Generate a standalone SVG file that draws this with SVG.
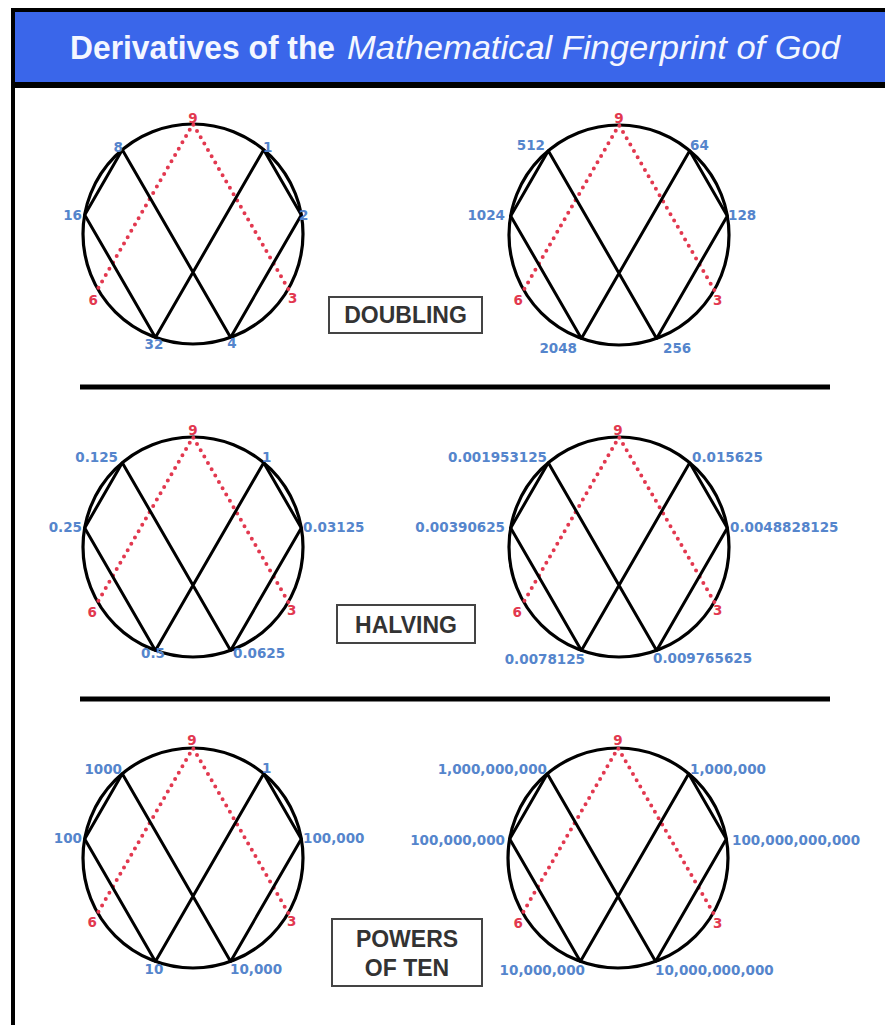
<svg xmlns="http://www.w3.org/2000/svg" xmlns:xlink="http://www.w3.org/1999/xlink" width="885" height="1025" viewBox="0 0 885 1025">
<style>
.ring{fill:none;stroke:#000;stroke-width:3.2}
.chord{fill:none;stroke:#000;stroke-width:3;stroke-linejoin:round}
.dots{fill:none;stroke:#e2384f;stroke-width:4;stroke-linecap:round;stroke-dasharray:0 7.3}
.lb{font-family:"DejaVu Sans",Verdana,sans-serif;font-weight:bold;font-size:13.5px;fill:#5585cc}
.rd{font-family:"DejaVu Sans",Verdana,sans-serif;font-weight:bold;font-size:13.5px;fill:#e2384f}
.box{fill:#fff;stroke:#444;stroke-width:2}
.bt{font-family:"Liberation Sans",Arial,sans-serif;font-weight:bold;font-size:23px;fill:#333;text-anchor:middle}
.tt{font-family:"Liberation Sans",Arial,sans-serif;font-size:34px;fill:#f4f7ff}
.div{stroke:#000;stroke-width:5}
.s{text-anchor:start}.m{text-anchor:middle}.e{text-anchor:end}
</style>
<defs>
<g id="fig">
<circle class="ring" cx="0" cy="0" r="110"/>
<path class="dots" d="M95.3,55 L0,-110 L-95.3,55"/>
<path class="chord" d="M70.7,-84.3 L108.3,-19.1 L37.6,103.4 L-70.7,-84.3 L-108.3,-19.1 L-37.6,103.4 Z"/>
</g>
</defs>
<rect width="885" height="1025" fill="#fff"/>
<g id="frame">
<rect x="11" y="8" width="874" height="80" fill="#000"/>
<rect x="15" y="12" width="870" height="70" fill="#3a66ea"/>
<rect x="11" y="8" width="4" height="1017" fill="#000"/>
<text class="tt" x="70" y="59" font-weight="bold" textLength="265" lengthAdjust="spacingAndGlyphs">Derivatives of the</text>
<text class="tt" x="347" y="59" font-style="italic" textLength="493" lengthAdjust="spacingAndGlyphs">Mathematical Fingerprint of God</text>
</g>
<g id="dividers">
<line class="div" x1="80" y1="387" x2="830" y2="387"/>
<line class="div" x1="80" y1="699" x2="830" y2="699"/>
</g>
<g id="doubling-1">
<use xlink:href="#fig" transform="translate(193,234)"/>
<text class="rd m" x="193" y="123">9</text>
<text class="lb s" x="263" y="152">1</text>
<text class="lb s" x="299" y="220">2</text>
<text class="rd s" x="288" y="303">3</text>
<text class="lb m" x="232" y="348">4</text>
<text class="lb m" x="154" y="349">32</text>
<text class="rd e" x="98" y="305">6</text>
<text class="lb e" x="82" y="220">16</text>
<text class="lb e" x="123" y="152">8</text>
</g>
<g id="doubling-2">
<use xlink:href="#fig" transform="translate(619,235)"/>
<text class="rd m" x="619" y="123">9</text>
<text class="lb s" x="690" y="150">64</text>
<text class="lb s" x="728" y="220">128</text>
<text class="rd s" x="713" y="305">3</text>
<text class="lb s" x="663" y="353">256</text>
<text class="lb e" x="577" y="353">2048</text>
<text class="rd e" x="523" y="305">6</text>
<text class="lb e" x="505" y="220">1024</text>
<text class="lb e" x="545" y="150">512</text>
</g>
<g id="label-doubling">
<rect class="box" x="329" y="297" width="153" height="36"/>
<text class="bt" x="405.5" y="323">DOUBLING</text>
</g>
<g id="halving-1">
<use xlink:href="#fig" transform="translate(193,547)"/>
<text class="rd m" x="193" y="435">9</text>
<text class="lb e" x="118" y="462">0.125</text>
<text class="lb s" x="262" y="462">1</text>
<text class="lb e" x="82" y="532">0.25</text>
<text class="lb s" x="303" y="532">0.03125</text>
<text class="rd s" x="287" y="615">3</text>
<text class="lb s" x="233" y="658">0.0625</text>
<text class="lb e" x="165" y="658">0.5</text>
<text class="rd e" x="97" y="617">6</text>
</g>
<g id="halving-2">
<use xlink:href="#fig" transform="translate(619,547)"/>
<text class="rd m" x="618" y="435">9</text>
<text class="lb e" x="547" y="462">0.001953125</text>
<text class="lb s" x="692" y="462">0.015625</text>
<text class="lb e" x="505" y="532">0.00390625</text>
<text class="lb s" x="730" y="532">0.0048828125</text>
<text class="rd s" x="713" y="615">3</text>
<text class="lb s" x="653" y="663">0.009765625</text>
<text class="lb e" x="585" y="664">0.0078125</text>
<text class="rd e" x="522" y="617">6</text>
</g>
<g id="label-halving">
<rect class="box" x="337" y="605" width="138" height="38"/>
<text class="bt" x="406" y="633">HALVING</text>
</g>
<g id="powers-1">
<use xlink:href="#fig" transform="translate(193,858)"/>
<text class="rd m" x="192" y="745">9</text>
<text class="lb e" x="122" y="774">1000</text>
<text class="lb s" x="262" y="773">1</text>
<text class="lb e" x="82" y="843">100</text>
<text class="lb s" x="303" y="843">100,000</text>
<text class="rd s" x="287" y="926">3</text>
<text class="lb s" x="230" y="974">10,000</text>
<text class="lb m" x="154" y="974">10</text>
<text class="rd e" x="97" y="927">6</text>
</g>
<g id="powers-2">
<use xlink:href="#fig" transform="translate(618,858)"/>
<text class="rd m" x="618" y="745">9</text>
<text class="lb e" x="547" y="774">1,000,000,000</text>
<text class="lb s" x="690" y="774">1,000,000</text>
<text class="lb e" x="505" y="845">100,000,000</text>
<text class="lb s" x="732" y="845">100,000,000,000</text>
<text class="rd s" x="713" y="928">3</text>
<text class="lb s" x="655" y="975">10,000,000,000</text>
<text class="lb e" x="585" y="975">10,000,000</text>
<text class="rd e" x="523" y="928">6</text>
</g>
<g id="label-powers">
<rect class="box" x="332" y="919" width="150" height="67"/>
<text class="bt" x="407" y="947">POWERS</text>
<text class="bt" x="407" y="976">OF TEN</text>
</g>
</svg>
